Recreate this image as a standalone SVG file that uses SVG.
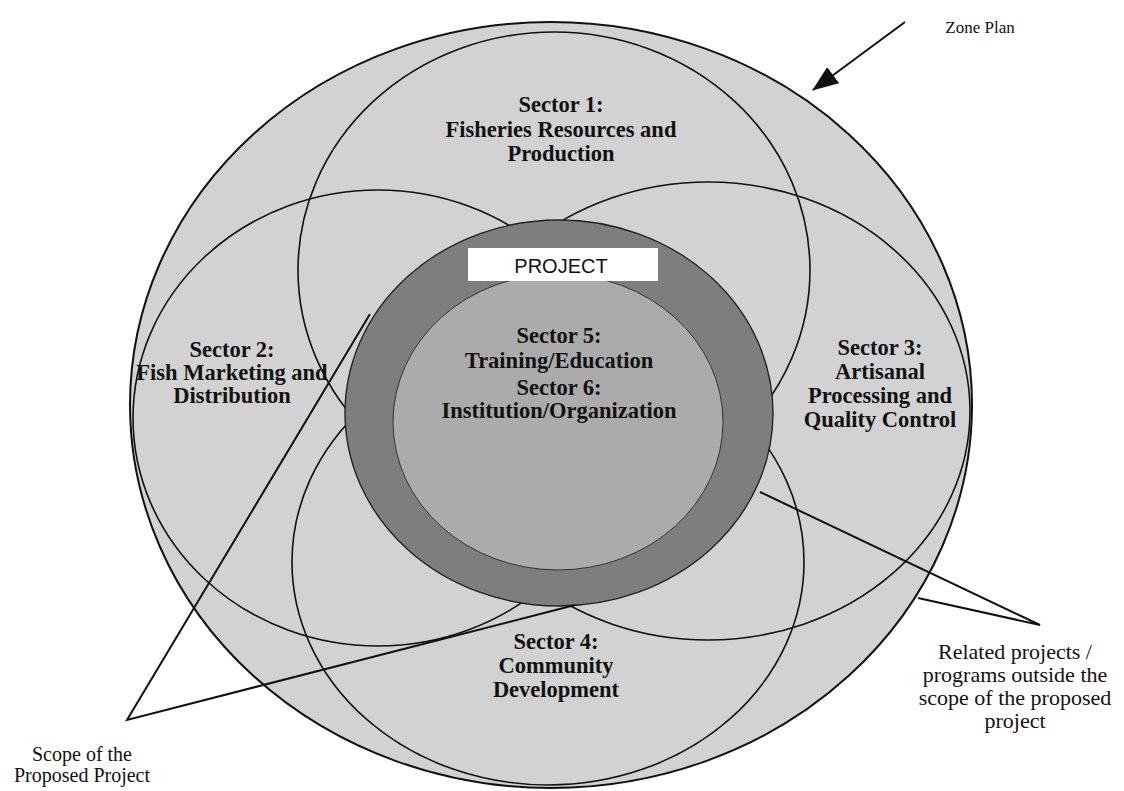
<svg xmlns="http://www.w3.org/2000/svg" width="1124" height="791" viewBox="0 0 1124 791">
<defs>
<marker id="arrowhead" viewBox="0 0 26 20" refX="25" refY="10" markerWidth="26" markerHeight="20" markerUnits="userSpaceOnUse" orient="auto">
<path d="M0,0 L26,10 L0,20 Z" fill="#111"/>
</marker>
</defs>
<style>
.zone{fill:#d2d2d2;stroke:#111;stroke-width:2}
.circ{fill:none;stroke:#111;stroke-width:1.6}
.band{fill:#7e7e7e;stroke:#222;stroke-width:1.4}
.core{fill:#ababab;stroke:#333;stroke-width:1}
.sec{font-family:"Liberation Serif","Times New Roman",serif;font-weight:bold;font-size:22.5px;fill:#111;text-anchor:middle}
.note{font-family:"Liberation Serif","Times New Roman",serif;font-size:22px;fill:#111;text-anchor:middle}
.conn{fill:none;stroke:#111;stroke-width:2}
.box{fill:#fff;stroke:none}
.proj{font-family:"Liberation Sans",Arial,sans-serif;font-size:20px;fill:#111;text-anchor:middle}
</style>
<rect x="0" y="0" width="1124" height="791" fill="#fff"/>

<g id="zone-plan">
<ellipse class="zone" cx="551" cy="405" rx="421" ry="383"/>
</g>

<g id="sector1">
<ellipse class="circ" cx="554" cy="270" rx="256" ry="238"/>
<text class="sec" x="561" y="112">Sector 1:</text>
<text class="sec" x="561" y="137">Fisheries Resources and</text>
<text class="sec" x="561" y="161">Production</text>
</g>

<g id="sector2">
<ellipse class="circ" cx="378" cy="418" rx="245" ry="228"/>
<text class="sec" x="232" y="357">Sector 2:</text>
<text class="sec" x="232" y="380">Fish Marketing and</text>
<text class="sec" x="232" y="403">Distribution</text>
</g>

<g id="sector3">
<ellipse class="circ" cx="708" cy="411" rx="262" ry="229"/>
<text class="sec" x="880" y="355">Sector 3:</text>
<text class="sec" x="880" y="379">Artisanal</text>
<text class="sec" x="880" y="403">Processing and</text>
<text class="sec" x="880" y="427">Quality Control</text>
</g>

<g id="sector4">
<ellipse class="circ" cx="548" cy="562" rx="256" ry="223"/>
<text class="sec" x="556" y="649">Sector 4:</text>
<text class="sec" x="556" y="673">Community</text>
<text class="sec" x="556" y="697">Development</text>
</g>

<g id="project">
<ellipse class="band" cx="559" cy="413" rx="214" ry="193"/>
<ellipse class="core" cx="558" cy="422" rx="165" ry="148"/>
<rect class="box" x="468" y="248" width="190" height="33"/>
<text class="proj" x="561" y="273">PROJECT</text>
</g>

<g id="sector5">
<text class="sec" x="559" y="343">Sector 5:</text>
<text class="sec" x="559" y="368">Training/Education</text>
</g>

<g id="sector6">
<text class="sec" x="559" y="395">Sector 6:</text>
<text class="sec" x="559" y="418">Institution/Organization</text>
</g>

<g id="connectors">
<line class="conn" x1="905" y1="22" x2="813" y2="90" marker-end="url(#arrowhead)"/>
<polyline class="conn" points="370,314 127,720 575,605"/>
<polyline class="conn" points="760,492 1040,625 918,598"/>
</g>

<g id="label-zone">
<text class="note" x="980" y="33" style="font-size:17px">Zone Plan</text>
</g>

<g id="label-scope">
<text class="note" x="82" y="761" style="font-size:20px">Scope of the</text>
<text class="note" x="82" y="782" style="font-size:20px">Proposed Project</text>
</g>

<g id="label-related">
<text class="note" x="1015" y="659">Related projects /</text>
<text class="note" x="1015" y="682">programs outside the</text>
<text class="note" x="1015" y="705">scope of the proposed</text>
<text class="note" x="1015" y="728">project</text>
</g>
</svg>
